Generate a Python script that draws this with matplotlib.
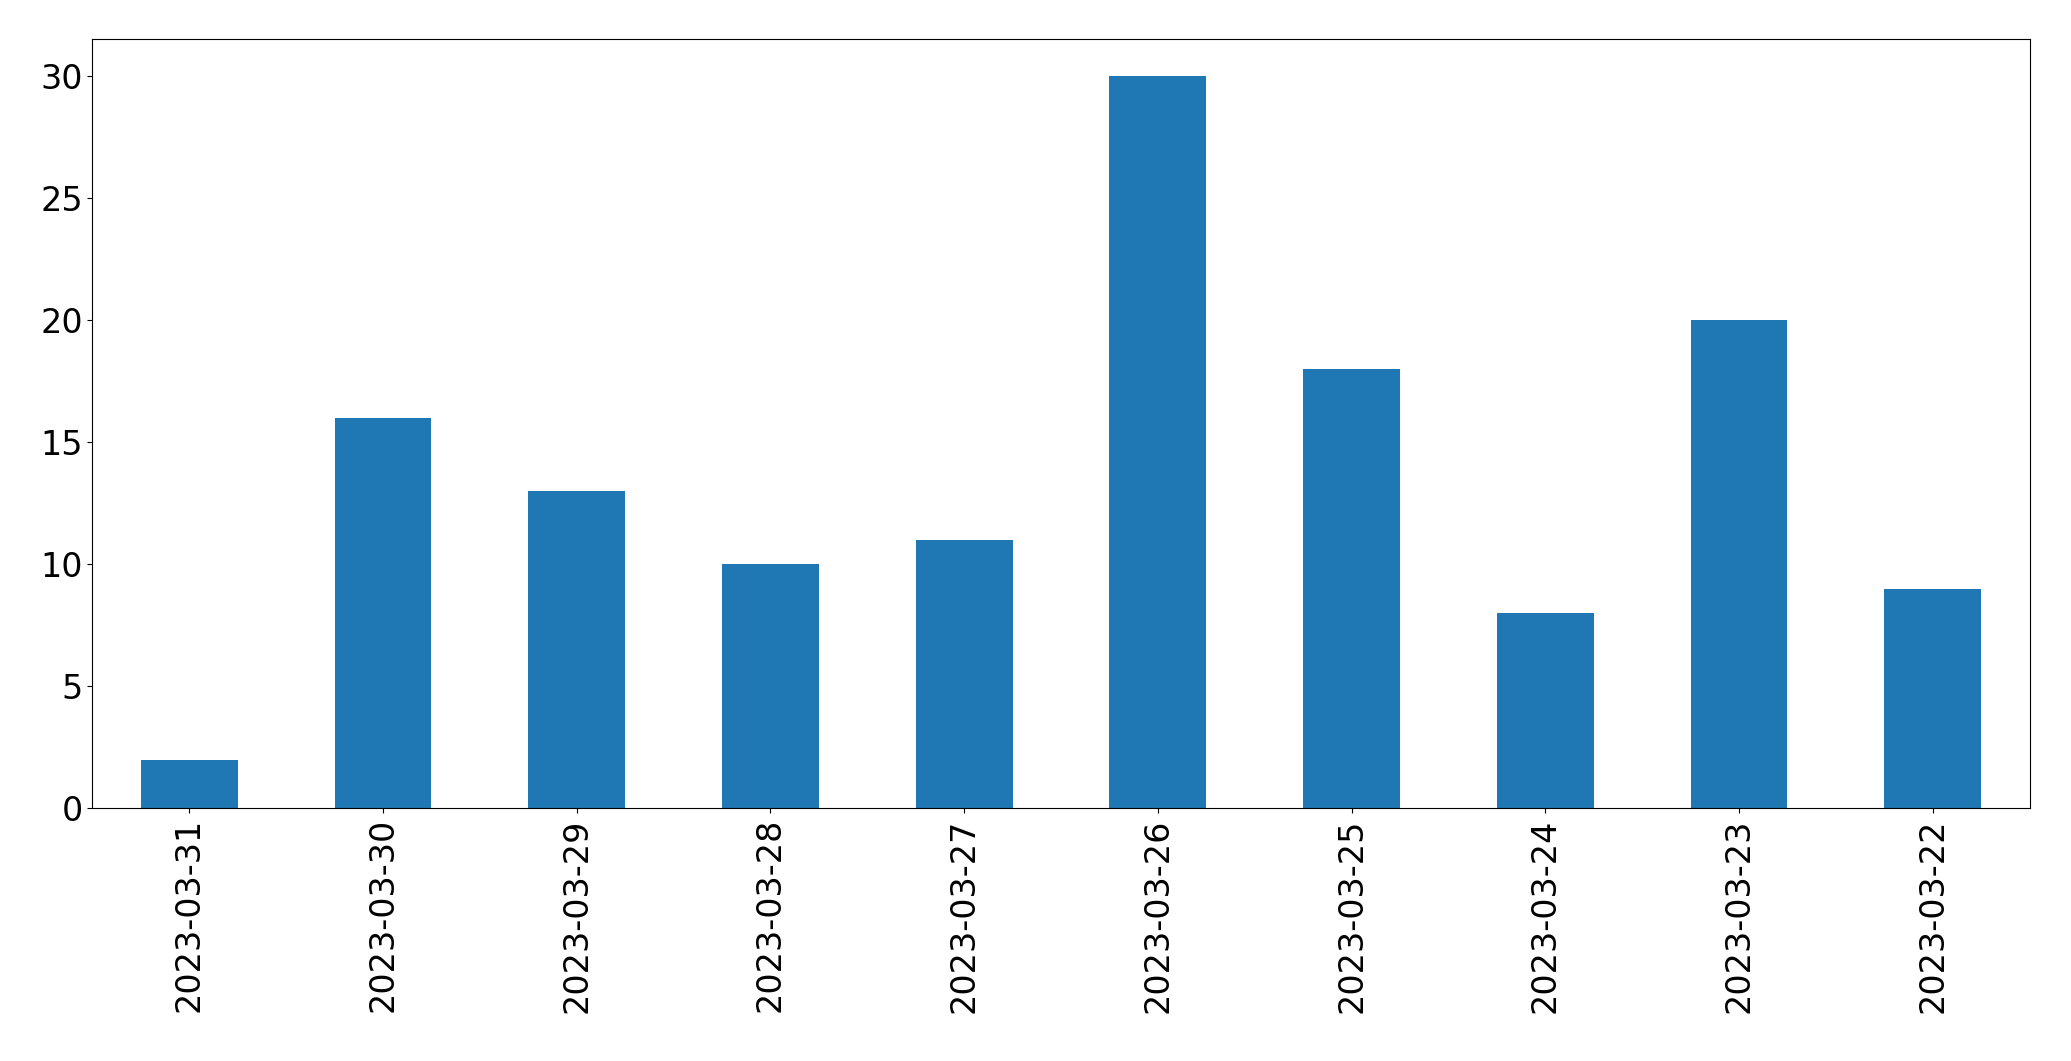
import matplotlib
matplotlib.use("Agg")
import matplotlib.pyplot as plt

dates = ["2023-03-31","2023-03-30","2023-03-29","2023-03-28","2023-03-27",
         "2023-03-26","2023-03-25","2023-03-24","2023-03-23","2023-03-22"]
counts = [2,16,13,10,11,30,18,8,20,9]

fig = plt.figure(figsize=(20.71,10.61), dpi=100)
ax = fig.add_axes([0.0446,0.238,0.9354,0.725])
x = range(len(dates))
ax.bar(x, counts, width=0.5, color="#1f77b4")
ax.set_xlim(-0.5, len(dates)-0.5)
ax.set_ylim(0, 31.5)
ax.set_xticks(list(x))
ax.set_xticklabels(dates, rotation=90)
ax.tick_params(labelsize=24)
fig.savefig("out.png", dpi=100)
